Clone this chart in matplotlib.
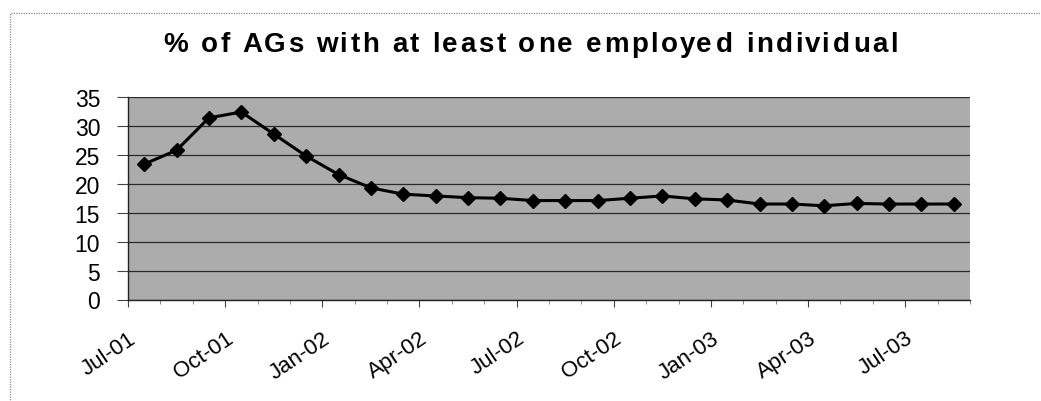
import matplotlib
matplotlib.use("Agg")
import matplotlib.pyplot as plt
from matplotlib.patches import Rectangle
import numpy as np

# Monthly share of AGs with at least one employed individual, Jul-01 .. Aug-03
months = ["Jul-01", "Aug-01", "Sep-01", "Oct-01", "Nov-01", "Dec-01",
          "Jan-02", "Feb-02", "Mar-02", "Apr-02", "May-02", "Jun-02",
          "Jul-02", "Aug-02", "Sep-02", "Oct-02", "Nov-02", "Dec-02",
          "Jan-03", "Feb-03", "Mar-03", "Apr-03", "May-03", "Jun-03",
          "Jul-03", "Aug-03"]
pct_employed = [23.4, 25.8, 31.4, 32.4, 28.6, 24.8,
                21.6, 19.3, 18.2, 17.9, 17.6, 17.5,
                17.1, 17.1, 17.1, 17.5, 17.9, 17.4,
                17.2, 16.5, 16.5, 16.2, 16.6, 16.5,
                16.5, 16.5]
tick_labels = ["Jul-01", "Oct-01", "Jan-02", "Apr-02", "Jul-02",
               "Oct-02", "Jan-03", "Apr-03", "Jul-03"]
y_ticks = [0, 5, 10, 15, 20, 25, 30, 35]
title = "% of AGs with at least one employed individual"

plt.rcParams["font.family"] = ["Liberation Sans", "DejaVu Sans"]

W, H = 1041, 402
fig = plt.figure(figsize=(W / 100, H / 100), dpi=100)
fig.patch.set_facecolor("white")

# chart-area border (dotted grey)
fig.patches.append(Rectangle((10 / W, -0.05), 1.1, 1 - 14 / H + 0.05,
                             transform=fig.transFigure, fill=False,
                             edgecolor="#8a8a8a", linewidth=0.9,
                             linestyle=(0, (1, 1))))

ax = fig.add_axes([128 / W, 1 - 300.5 / H, (970 - 128) / W, (300.5 - 98) / H])
ax.set_facecolor("#acacac")

x = np.arange(len(months))
ax.plot(x, pct_employed, color="black", linewidth=2.2, marker="D",
        markersize=7.5, markerfacecolor="black", markeredgecolor="black",
        zorder=3)

ax.set_xlim(-0.5, len(months) - 0.5)
ax.set_ylim(0, 35)
ax.set_yticks(y_ticks)
ax.yaxis.grid(True, color="#2a2a2a", linewidth=0.9)
ax.set_axisbelow(True)

major_pos = [-0.5 + 3 * i for i in range(len(tick_labels))]
ax.set_xticks(major_pos)
ax.set_xticklabels(tick_labels, rotation=34, ha="right", va="top",
                   rotation_mode="anchor", fontsize=16)
ax.set_xticks(np.arange(-0.5, len(months), 1.0), minor=True)
ax.tick_params(axis="x", which="major", length=5, width=0.8, pad=15,
               color="#444444")
ax.tick_params(axis="x", which="minor", length=3, width=0.6, color="#777777")
ax.tick_params(axis="y", length=8, width=0.8, pad=12, labelsize=16.5,
               color="#444444")

for side in ("top", "right"):
    ax.spines[side].set_visible(False)
for side in ("left", "bottom"):
    ax.spines[side].set_color("#222222")
    ax.spines[side].set_linewidth(1.0)

# Title drawn with extra letter tracking, spanning a fixed pixel width
fig.canvas.draw()
renderer = fig.canvas.get_renderer()
tkw = dict(fontsize=20, fontweight="bold", va="center", ha="left")


def text_width(s):
    t = fig.text(0, 0, s, **tkw)
    w = t.get_window_extent(renderer).width
    t.remove()
    return w


dot_w = text_width(".")
prefix = [0.0] + [text_width(title[:i] + ".") - dot_w
                  for i in range(1, len(title) + 1)]
natural = prefix[-1]
left_px, right_px = 163, 898
track = (right_px - left_px - natural) / (len(title) - 1)
y_title = 1 - 45 / H
for i, ch in enumerate(title):
    if ch == " ":
        continue
    fig.text((left_px + prefix[i] + i * track) / W, y_title, ch, **tkw)

fig.savefig("out.png", dpi=100)
